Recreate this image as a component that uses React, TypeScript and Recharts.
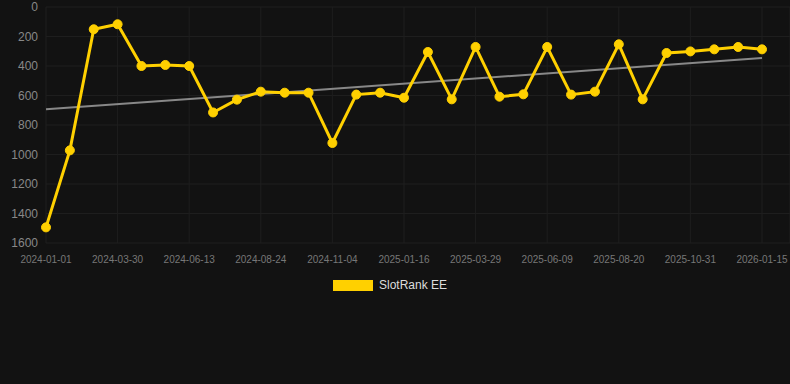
import { LineChart, Line, XAxis, YAxis, CartesianGrid, Legend, ReferenceLine } from 'recharts';

const dates = [
  '2024-01-01', '2024-01-31', '2024-03-01', '2024-03-30', '2024-04-24', '2024-05-19',
  '2024-06-13', '2024-07-07', '2024-07-31', '2024-08-24', '2024-09-17', '2024-10-11',
  '2024-11-04', '2024-11-28', '2024-12-22', '2025-01-16', '2025-02-09', '2025-03-05',
  '2025-03-29', '2025-04-22', '2025-05-16', '2025-06-09', '2025-07-03', '2025-07-27',
  '2025-08-20', '2025-09-13', '2025-10-07', '2025-10-31', '2025-11-24', '2025-12-20',
  '2026-01-15',
];

const rank = [
  1494, 972, 151, 117, 400, 393, 400, 715, 628, 574, 581, 581, 922, 594, 581, 615,
  305, 626, 271, 608, 592, 271, 594, 574, 253, 626, 312, 301, 287, 271, 287,
];

const tickDates = [
  '2024-01-01', '2024-03-30', '2024-06-13', '2024-08-24', '2024-11-04', '2025-01-16',
  '2025-03-29', '2025-06-09', '2025-08-20', '2025-10-31', '2026-01-15',
];

const yTicks = [0, 200, 400, 600, 800, 1000, 1200, 1400, 1600];

// trend line start / end values
const trendStart = 694;
const trendEnd = 346;

const data = dates.map((d, i) => ({ date: d, rank: rank[i] }));

const LegendBox = () => (
  <div style={{ display: 'flex', justifyContent: 'center', alignItems: 'center', height: 20, marginLeft: -10 }}>
    <span style={{ display: 'inline-block', width: 40, height: 11, background: '#ffd000', marginRight: 6 }} />
    <span style={{ color: '#dddddd', fontSize: 12 }}>SlotRank EE</span>
  </div>
);

export default function App() {
  return (
    <div style={{ position: 'absolute', left: 0, top: 0, width: 790, height: 384, background: '#121212', fontFamily: '"Liberation Sans", Arial, sans-serif' }}>
      <LineChart width={790} height={384} data={data} margin={{ top: 7, right: 0, left: 0, bottom: 89 }}>
        <CartesianGrid stroke="#1e1e1e" strokeWidth={1} />
        <XAxis
          dataKey="date"
          ticks={tickDates}
          interval={0}
          axisLine={false}
          tickLine={false}
          tickMargin={7}
          height={32}
          padding={{ left: 0, right: 28 }}
          tick={{ fill: '#777777', fontSize: 10 }}
        />
        <YAxis
          reversed
          domain={[0, 1600]}
          ticks={yTicks}
          interval={0}
          width={46}
          axisLine={false}
          tickLine={false}
          tick={{ fill: '#888888', fontSize: 12 }}
        />
        <ReferenceLine
          segment={[{ x: dates[0], y: trendStart }, { x: dates[dates.length - 1], y: trendEnd }]}
          stroke="#888888"
          strokeWidth={2}
        />
        <Line
          type="linear"
          dataKey="rank"
          name="SlotRank EE"
          stroke="#ffd000"
          strokeWidth={3}
          dot={{ r: 4.5, fill: '#ffd000', stroke: '#ffd000', strokeWidth: 1 }}
          activeDot={false}
          isAnimationActive={false}
        />
        <Legend verticalAlign="bottom" content={<LegendBox />} />
      </LineChart>
    </div>
  );
}
